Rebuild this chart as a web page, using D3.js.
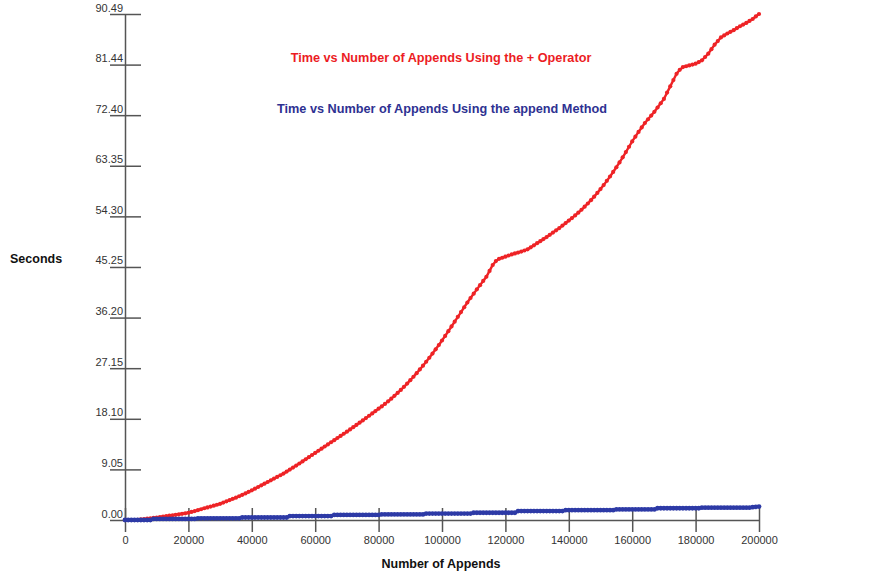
<!DOCTYPE html>
<html>
<head>
<meta charset="utf-8">
<script src="https://cdn.jsdelivr.net/npm/d3@7"></script>
<style>
  html, body { margin: 0; padding: 0; background: #fff; }
  svg { display: block; font-family: "Liberation Sans", Arial, sans-serif; }
</style>
</head>
<body>
<div id="chart"></div>
<script>
// appends, one sample every 1000
const step = 1000;

// seconds, "+" operator
const plusSeconds = [
  0, 0, 0, 0, 0.03, 0.1, 0.16, 0.23, 0.3, 0.38,
  0.45, 0.53, 0.61, 0.69, 0.77, 0.85, 0.93, 1.02, 1.11, 1.2,
  1.3, 1.45, 1.6, 1.75, 1.92, 2.1, 2.25, 2.4, 2.56, 2.73,
  2.9, 3.12, 3.34, 3.56, 3.78, 4.0, 4.25, 4.5, 4.76, 5.03,
  5.3, 5.6, 5.9, 6.2, 6.5, 6.8, 7.1, 7.4, 7.7, 8.0,
  8.3, 8.66, 9.02, 9.38, 9.74, 10.1, 10.48, 10.86, 11.24, 11.62,
  12.0, 12.38, 12.76, 13.14, 13.52, 13.9, 14.28, 14.66, 15.04, 15.42,
  15.8, 16.2, 16.6, 17.0, 17.4, 17.8, 18.22, 18.64, 19.06, 19.48,
  19.9, 20.32, 20.76, 21.22, 21.7, 22.2, 22.72, 23.26, 23.82, 24.4,
  25.0, 25.62, 26.26, 26.92, 27.6, 28.3, 29.02, 29.76, 30.52, 31.3,
  32.1, 32.92, 33.76, 34.61, 35.47, 36.33, 37.19, 38.05, 38.9, 39.7,
  40.48, 41.25, 42.0, 42.75, 43.5, 44.55, 45.6, 46.3, 46.7, 46.9,
  47.1, 47.3, 47.5, 47.67, 47.83, 48.0, 48.2, 48.4, 48.77, 49.13,
  49.5, 49.87, 50.23, 50.6, 51.0, 51.4, 51.8, 52.2, 52.65, 53.1,
  53.55, 54.0, 54.47, 54.96, 55.48, 56.03, 56.6, 57.2, 57.83, 58.49,
  59.18, 59.9, 60.65, 61.43, 62.24, 63.08, 63.95, 64.85, 65.8, 66.75,
  67.7, 68.55, 69.4, 70.2, 71.0, 71.67, 72.33, 73.0, 73.77, 74.53,
  75.3, 76.43, 77.55, 78.68, 79.8, 80.5, 81.0, 81.15, 81.3, 81.45,
  81.6, 81.9, 82.2, 82.8, 83.4, 84.2, 85.0, 85.65, 86.3, 86.65,
  87.0, 87.3, 87.6, 87.95, 88.3, 88.6, 88.9, 89.25, 89.6, 90.05,
  90.49
];

// seconds, append method
const appendSeconds = [
  0, 0, 0, 0, 0, 0, 0, 0, 0, 0.2,
  0.2, 0.2, 0.2, 0.2, 0.2, 0.2, 0.2, 0.2, 0.2, 0.2,
  0.2, 0.2, 0.2, 0.3, 0.3, 0.3, 0.3, 0.3, 0.3, 0.3,
  0.3, 0.3, 0.3, 0.3, 0.3, 0.3, 0.3, 0.45, 0.45, 0.45,
  0.45, 0.45, 0.45, 0.45, 0.45, 0.45, 0.45, 0.45, 0.45, 0.45,
  0.45, 0.45, 0.7, 0.7, 0.7, 0.7, 0.7, 0.7, 0.7, 0.7,
  0.7, 0.7, 0.7, 0.7, 0.7, 0.7, 0.9, 0.9, 0.9, 0.9,
  0.9, 0.9, 0.9, 0.9, 0.9, 0.9, 0.9, 0.9, 0.9, 0.9,
  0.9, 1.0, 1.0, 1.0, 1.0, 1.0, 1.0, 1.0, 1.0, 1.0,
  1.0, 1.0, 1.0, 1.0, 1.0, 1.15, 1.15, 1.15, 1.15, 1.15,
  1.15, 1.15, 1.15, 1.15, 1.15, 1.15, 1.15, 1.15, 1.15, 1.15,
  1.3, 1.3, 1.3, 1.3, 1.3, 1.3, 1.3, 1.3, 1.3, 1.3,
  1.3, 1.3, 1.3, 1.3, 1.6, 1.6, 1.6, 1.6, 1.6, 1.6,
  1.6, 1.6, 1.6, 1.6, 1.6, 1.6, 1.6, 1.6, 1.6, 1.75,
  1.75, 1.75, 1.75, 1.75, 1.75, 1.75, 1.75, 1.75, 1.75, 1.75,
  1.75, 1.75, 1.75, 1.75, 1.75, 1.9, 1.9, 1.9, 1.9, 1.9,
  1.9, 1.9, 1.9, 1.9, 1.9, 1.9, 1.9, 1.9, 2.1, 2.1,
  2.1, 2.1, 2.1, 2.1, 2.1, 2.1, 2.1, 2.1, 2.1, 2.1,
  2.1, 2.1, 2.2, 2.2, 2.2, 2.2, 2.2, 2.2, 2.2, 2.2,
  2.2, 2.2, 2.2, 2.2, 2.2, 2.2, 2.2, 2.2, 2.3, 2.35,
  2.4
];

const xTicks = [0, 20000, 40000, 60000, 80000, 100000, 120000, 140000, 160000, 180000, 200000];
const yTickLabels = ["0.00", "9.05", "18.10", "27.15", "36.20", "45.25", "54.30", "63.35", "72.40", "81.44", "90.49"];

const width = 881, height = 577;
const axisColor = "#555";

const svg = d3.select("#chart").append("svg")
  .attr("width", width)
  .attr("height", height);

const x = d3.scaleLinear().domain([0, 200000]).range([125, 759]);
const y = d3.scaleLinear().domain([0, 90.49]).range([520, 14]);

// y axis, ticks cross the line
const yAxis = svg.append("g")
  .attr("transform", "translate(125,0)")
  .call(d3.axisLeft(y)
    .tickValues(yTickLabels.map(Number))
    .tickFormat((d, i) => yTickLabels[i])
    .tickSize(15)
    .tickSizeOuter(0));
yAxis.selectAll(".tick line").attr("x1", 16);
yAxis.selectAll(".tick text")
  .attr("x", -2)
  .attr("dy", -3)
  .attr("font-size", 11)
  .attr("fill", "#333");

// x axis
const xAxis = svg.append("g")
  .attr("transform", "translate(0,520)")
  .call(d3.axisBottom(x)
    .tickValues(xTicks)
    .tickFormat(d3.format("d"))
    .tickSize(12)
    .tickSizeOuter(0));
xAxis.selectAll(".tick line").attr("y1", -12);
xAxis.selectAll(".tick text")
  .attr("y", 24)
  .attr("dy", 0)
  .attr("font-size", 11)
  .attr("fill", "#333");

svg.selectAll(".domain, .tick line")
  .attr("stroke", axisColor)
  .attr("stroke-width", 1.5);
svg.selectAll(".tick text").attr("font-family", "'Liberation Sans', Arial, sans-serif");

// the two series
const series = [
  { values: plusSeconds, color: "#ee2326", r: 2.1, w: 2.4 },
  { values: appendSeconds, color: "#2d3aa6", r: 2.4, w: 3 }
];

const line = d3.line()
  .x((d, i) => x(i * step))
  .y(d => y(d));

series.forEach(s => {
  const g = svg.append("g");
  g.append("path")
    .datum(s.values)
    .attr("d", line)
    .attr("fill", "none")
    .attr("stroke", s.color)
    .attr("stroke-width", s.w);
  g.selectAll("circle")
    .data(s.values)
    .join("circle")
    .attr("cx", (d, i) => x(i * step))
    .attr("cy", d => y(d))
    .attr("r", s.r)
    .attr("fill", s.color);
});

// titles
svg.append("text")
  .attr("x", 441).attr("y", 61.5)
  .attr("text-anchor", "middle")
  .attr("font-size", 12.7).attr("font-weight", "bold")
  .attr("fill", "#ec1c24")
  .text("Time vs Number of Appends Using the + Operator");

svg.append("text")
  .attr("x", 442).attr("y", 112.5)
  .attr("text-anchor", "middle")
  .attr("font-size", 12.7).attr("font-weight", "bold")
  .attr("fill", "#2e3192")
  .text("Time vs Number of Appends Using the append Method");

svg.append("text")
  .attr("x", 10).attr("y", 262.5)
  .attr("font-size", 12.5).attr("font-weight", "bold")
  .attr("fill", "#111")
  .text("Seconds");

svg.append("text")
  .attr("x", 441).attr("y", 567.5)
  .attr("text-anchor", "middle")
  .attr("font-size", 12.5).attr("font-weight", "bold")
  .attr("fill", "#111")
  .text("Number of Appends");
</script>
</body>
</html>
